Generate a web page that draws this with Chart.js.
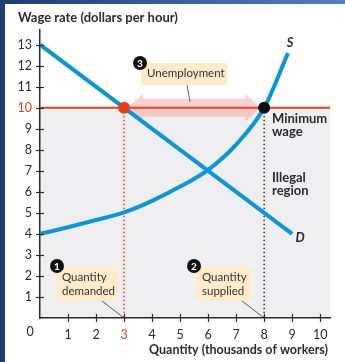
<!DOCTYPE html>
<html>
<head>
<meta charset="utf-8">
<script src="https://cdn.jsdelivr.net/npm/chart.js@4/dist/chart.umd.min.js"></script>
<style>
  html, body { margin: 0; padding: 0; background: #fff; }
  canvas { display: block; }
</style>
</head>
<body>
<canvas id="wageChart" width="345" height="362"></canvas>
<script>
const xTicks = [1, 2, 3, 4, 5, 6, 7, 8, 9, 10];
const yTicks = [1, 2, 3, 4, 5, 6, 7, 8, 9, 10, 11, 12, 13];
const demandX = [0, 9];
const demandY = [13, 4];
const supplyX = [0, 1, 2, 3, 4, 5, 6, 7, 8, 8.85];
const supplyY = [4, 4.32, 4.66, 5.02, 5.57, 6.25, 7.05, 8.25, 10, 12.6];
const minWage = 10;
const qDemanded = 3;
const qSupplied = 8;
const xMax = 10.35;
const yMax = 13.7;

const BLUE = '#0a97d9';
const RED = '#e8401c';
const INK = '#2b2b2b';
const FONT = 'Lato, "Open Sans", sans-serif';

const toPoints = (xs, ys) => xs.map((x, i) => ({ x: x, y: ys[i] }));

function numberBadge(ctx, x, y, n) {
    ctx.fillStyle = '#111';
    ctx.beginPath();
    ctx.arc(x, y, 7, 0, Math.PI * 2);
    ctx.fill();
    ctx.fillStyle = '#fff';
    ctx.font = 'bold 10px ' + FONT;
    ctx.textAlign = 'center';
    ctx.textBaseline = 'middle';
    ctx.fillText(n, x, y + 0.5);
}

function noteBox(ctx, x, y, w, h, lines) {
    ctx.fillStyle = '#fdebc9';
    ctx.fillRect(x, y, w, h);
    ctx.fillStyle = '#333';
    ctx.font = '11.5px ' + FONT;
    ctx.textAlign = 'left';
    ctx.textBaseline = 'middle';
    lines.forEach((t, i) => ctx.fillText(t, x + 6, y + 10 + i * 14));
}

function leader(ctx, x1, y1, x2, y2) {
    ctx.strokeStyle = '#333';
    ctx.lineWidth = 0.8;
    ctx.beginPath();
    ctx.moveTo(x1, y1);
    ctx.lineTo(x2, y2);
    ctx.stroke();
}

const decor = {
    id: 'decor',
    beforeDraw(chart) {
        const { ctx, chartArea: a, scales: { y } } = chart;
        ctx.save();
        // page frame
        ctx.fillStyle = '#1f3d6d';
        ctx.fillRect(0, 0, 5, chart.height);
        const g = ctx.createLinearGradient(0, 0, chart.width, 0);
        g.addColorStop(0, '#1f3d6d');
        g.addColorStop(1, '#4f82bf');
        ctx.fillStyle = g;
        ctx.fillRect(0, 0, chart.width, 4);
        // illegal region
        const yw = y.getPixelForValue(minWage);
        ctx.fillStyle = '#efeef0';
        ctx.fillRect(a.left, yw, a.right - a.left, a.bottom - yw);
        ctx.restore();
    },
    beforeDatasetsDraw(chart) {
        const { ctx, scales: { x, y } } = chart;
        const x1 = x.getPixelForValue(qDemanded) + 4;
        const x2 = x.getPixelForValue(qSupplied) - 4;
        const ym = y.getPixelForValue(minWage);
        const sh = 9, hh = 14, hl = 15;
        ctx.save();
        ctx.fillStyle = 'rgba(244, 130, 120, 0.35)';
        ctx.beginPath();
        ctx.moveTo(x1, ym);
        ctx.lineTo(x1 + hl, ym - hh);
        ctx.lineTo(x1 + hl, ym - sh);
        ctx.lineTo(x2 - hl, ym - sh);
        ctx.lineTo(x2 - hl, ym - hh);
        ctx.lineTo(x2, ym);
        ctx.lineTo(x2 - hl, ym + hh);
        ctx.lineTo(x2 - hl, ym + sh);
        ctx.lineTo(x1 + hl, ym + sh);
        ctx.lineTo(x1 + hl, ym + hh);
        ctx.closePath();
        ctx.fill();
        ctx.restore();
    },
    afterDraw(chart) {
        const { ctx, chartArea: a, scales: { x, y } } = chart;
        ctx.save();
        // ticks crossing the axes
        ctx.strokeStyle = INK;
        ctx.lineWidth = 1.2;
        yTicks.forEach(v => {
            const p = Math.round(y.getPixelForValue(v)) + 0.5;
            ctx.beginPath();
            ctx.moveTo(a.left - 4, p);
            ctx.lineTo(a.left + 4, p);
            ctx.stroke();
        });
        xTicks.forEach(v => {
            const p = Math.round(x.getPixelForValue(v)) + 0.5;
            ctx.beginPath();
            ctx.moveTo(p, a.bottom - 4);
            ctx.lineTo(p, a.bottom + 4);
            ctx.stroke();
        });

        // origin
        ctx.fillStyle = INK;
        ctx.font = '12.5px ' + FONT;
        ctx.textAlign = 'center';
        ctx.textBaseline = 'middle';
        ctx.fillText('0', 30, 332);

        // axis titles
        ctx.font = 'bold 13px ' + FONT;
        ctx.textAlign = 'left';
        ctx.fillText('Wage rate (dollars per hour)', 18, 18);
        ctx.font = 'bold 12.5px ' + FONT;
        ctx.textAlign = 'right';
        ctx.fillText('Quantity (thousands of workers)', 328, 350);

        // curve labels
        ctx.font = 'italic bold 13px ' + FONT;
        ctx.textAlign = 'center';
        ctx.fillText('S', 290, 43);
        ctx.fillText('D', 300, 238);

        // side notes
        ctx.font = 'bold 13px ' + FONT;
        ctx.textAlign = 'left';
        ctx.fillText('Minimum', 272, 119);
        ctx.fillText('wage', 272, 132);
        ctx.fillText('Illegal', 272, 178);
        ctx.fillText('region', 272, 191);

        // callouts
        const bx = a.bottom;
        leader(ctx, 187, 85, 190, y.getPixelForValue(minWage) - 6);
        noteBox(ctx, 141, 63, 86, 22, ['Unemployment']);
        numberBadge(ctx, 140, 63, '3');

        leader(ctx, 102, 301, x.getPixelForValue(qDemanded), bx);
        noteBox(ctx, 56, 267, 62, 34, ['Quantity', 'demanded']);
        numberBadge(ctx, 57, 266, '1');

        leader(ctx, 242, 301, x.getPixelForValue(qSupplied), bx);
        noteBox(ctx, 196, 267, 55, 34, ['Quantity', 'supplied']);
        numberBadge(ctx, 194, 266, '2');
        ctx.restore();
    }
};

new Chart(document.getElementById('wageChart'), {
    type: 'scatter',
    data: {
        datasets: [
            {
                label: 'Minimum wage points',
                data: [{ x: qDemanded, y: minWage }, { x: qSupplied, y: minWage }],
                pointRadius: 6,
                pointHoverRadius: 6,
                pointBackgroundColor: [RED, '#111'],
                pointBorderWidth: 0,
                order: 1
            },
            {
                label: 'D',
                data: toPoints(demandX, demandY),
                showLine: true,
                borderColor: BLUE,
                borderWidth: 4,
                pointRadius: 0,
                order: 2
            },
            {
                label: 'S',
                data: toPoints(supplyX, supplyY),
                showLine: true,
                borderColor: BLUE,
                borderWidth: 4,
                pointRadius: 0,
                cubicInterpolationMode: 'monotone',
                order: 2
            },
            {
                label: 'Minimum wage',
                data: [{ x: 0, y: minWage }, { x: xMax, y: minWage }],
                showLine: true,
                borderColor: RED,
                borderWidth: 2,
                pointRadius: 0,
                order: 3
            },
            {
                label: 'Quantity demanded',
                data: [{ x: qDemanded, y: minWage }, { x: qDemanded, y: 0 }],
                showLine: true,
                borderColor: RED,
                borderWidth: 1.5,
                borderDash: [1.5, 2.5],
                pointRadius: 0,
                order: 4
            },
            {
                label: 'Quantity supplied',
                data: [{ x: qSupplied, y: minWage }, { x: qSupplied, y: 0 }],
                showLine: true,
                borderColor: '#333',
                borderWidth: 1.5,
                borderDash: [1.5, 2.5],
                pointRadius: 0,
                order: 4
            }
        ]
    },
    options: {
        responsive: false,
        animation: false,
        events: [],
        layout: { padding: { top: 30, right: 15, left: 0, bottom: 0 } },
        plugins: {
            legend: { display: false },
            tooltip: { enabled: false }
        },
        scales: {
            x: {
                type: 'linear',
                min: 0,
                max: xMax,
                afterBuildTicks: s => { s.ticks = xTicks.map(v => ({ value: v })); },
                afterFit: s => { s.height = 44; },
                grid: { drawOnChartArea: false, drawTicks: false },
                border: { color: INK, width: 1.5 },
                ticks: {
                    autoSkip: false,
                    maxRotation: 0,
                    padding: 9,
                    font: { family: FONT, size: 12.5 },
                    color: c => c.tick.value === qDemanded ? RED : INK,
                    callback: v => String(v)
                }
            },
            y: {
                type: 'linear',
                min: 0,
                max: yMax,
                afterBuildTicks: s => { s.ticks = yTicks.map(v => ({ value: v })); },
                afterFit: s => { s.width = 40; },
                grid: { drawOnChartArea: false, drawTicks: false },
                border: { color: INK, width: 1.5 },
                ticks: {
                    autoSkip: false,
                    padding: 8,
                    font: { family: FONT, size: 12.5 },
                    color: c => c.tick.value === minWage ? RED : INK,
                    callback: v => String(v)
                }
            }
        }
    },
    plugins: [decor]
});
</script>
</body>
</html>
